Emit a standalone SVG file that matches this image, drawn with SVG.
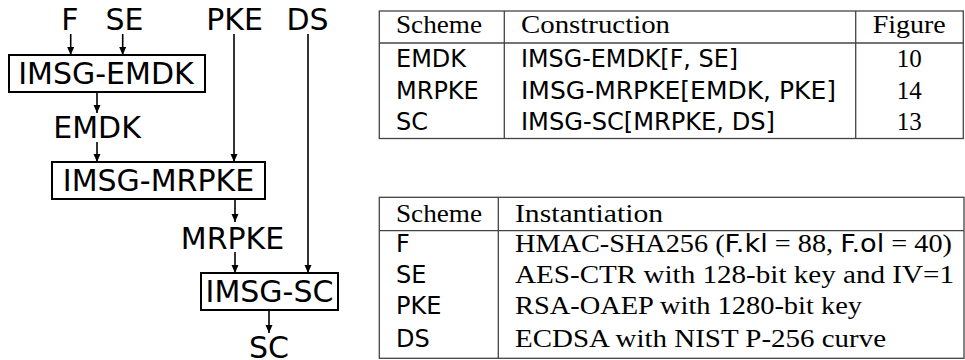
<svg xmlns="http://www.w3.org/2000/svg" width="965" height="360" viewBox="0 0 965 360">
<style>
.lbl{font-family:"DejaVu Sans",sans-serif;font-size:30px;fill:#000;text-anchor:middle}
.box{fill:#fff;stroke:#000;stroke-width:2}
.edge{stroke:#000;stroke-width:1.6;fill:none;marker-end:url(#ah)}
.tl{stroke:#444;stroke-width:1.3;fill:none}
.ss{font-family:"DejaVu Sans",sans-serif;font-size:24px;fill:#000}
.sf{font-family:"Liberation Serif","Times New Roman",serif;font-size:25px;fill:#000}
.mid{text-anchor:middle}
</style>
<defs>
<marker id="ah" markerUnits="userSpaceOnUse" markerWidth="9" markerHeight="8" refX="8" refY="3.5" orient="auto">
<path d="M0,0 L8,3.5 L0,7 z" fill="#000"/>
</marker>
</defs>
<g id="inputs">
<text class="lbl" x="70" y="30">F</text>
<text class="lbl" x="124.5" y="30">SE</text>
<text class="lbl" x="234.5" y="30">PKE</text>
<text class="lbl" x="307.5" y="30">DS</text>
</g>
<g id="imsg-emdk">
<rect class="box" x="9" y="55" width="196" height="37"/>
<text class="lbl" x="106" y="84">IMSG-EMDK</text>
</g>
<g id="emdk"><text class="lbl" x="97" y="138">EMDK</text></g>
<g id="imsg-mrpke">
<rect class="box" x="52" y="162" width="213" height="37"/>
<text class="lbl" x="158.5" y="191">IMSG-MRPKE</text>
</g>
<g id="mrpke"><text class="lbl" x="232.5" y="249">MRPKE</text></g>
<g id="imsg-sc">
<rect class="box" x="201" y="273" width="137" height="37"/>
<text class="lbl" x="269.5" y="302">IMSG-SC</text>
</g>
<g id="sc"><text class="lbl" x="269" y="358">SC</text></g>
<g id="connectors">
<line class="edge" x1="70.7" y1="34" x2="70.7" y2="55"/>
<line class="edge" x1="122.7" y1="34" x2="122.7" y2="55"/>
<line class="edge" x1="97" y1="92" x2="97" y2="113"/>
<line class="edge" x1="97" y1="142" x2="97" y2="162"/>
<line class="edge" x1="234" y1="34" x2="234" y2="162"/>
<line class="edge" x1="308" y1="34" x2="308" y2="273"/>
<line class="edge" x1="235" y1="199" x2="235" y2="222"/>
<line class="edge" x1="235" y1="252" x2="235" y2="273"/>
<line class="edge" x1="269" y1="310" x2="269" y2="333"/>
</g>
<g id="table-construction">
<rect class="tl" x="379.3" y="11" width="584" height="127.5"/>
<line class="tl" x1="379.3" y1="43" x2="963.3" y2="43"/>
<line class="tl" x1="504.3" y1="11" x2="504.3" y2="138.5"/>
<line class="tl" x1="855.7" y1="11" x2="855.7" y2="138.5"/>
<text class="sf" x="396" y="33" textLength="86" lengthAdjust="spacingAndGlyphs">Scheme</text>
<text class="sf" x="521" y="33" textLength="149" lengthAdjust="spacingAndGlyphs">Construction</text>
<text class="sf" x="872.7" y="33" textLength="73" lengthAdjust="spacingAndGlyphs">Figure</text>
<text class="ss" x="396" y="67">EMDK</text>
<text class="ss" x="396" y="98.5">MRPKE</text>
<text class="ss" x="396" y="130">SC</text>
<text class="ss" x="521" y="67" textLength="217" lengthAdjust="spacingAndGlyphs">IMSG-EMDK[F, SE]</text>
<text class="ss" x="521" y="98.5" textLength="315" lengthAdjust="spacingAndGlyphs">IMSG-MRPKE[EMDK, PKE]</text>
<text class="ss" x="521" y="130" textLength="254" lengthAdjust="spacingAndGlyphs">IMSG-SC[MRPKE, DS]</text>
<text class="sf mid" x="909.3" y="67">10</text>
<text class="sf mid" x="909.3" y="98.5">14</text>
<text class="sf mid" x="909.3" y="130">13</text>
</g>
<g id="table-instantiation">
<rect class="tl" x="379.3" y="197.3" width="584.7" height="161"/>
<line class="tl" x1="379.3" y1="230.7" x2="964" y2="230.7"/>
<line class="tl" x1="498.3" y1="197.3" x2="498.3" y2="358.3"/>
<text class="sf" x="396" y="221.7" textLength="86" lengthAdjust="spacingAndGlyphs">Scheme</text>
<text class="sf" x="515" y="221.7" textLength="148" lengthAdjust="spacingAndGlyphs">Instantiation</text>
<text class="ss" x="396" y="251.7">F</text>
<text class="ss" x="396" y="282.7">SE</text>
<text class="ss" x="396" y="314.3">PKE</text>
<text class="ss" x="396" y="346.7">DS</text>
<text class="sf" x="515" y="251.7" textLength="437" lengthAdjust="spacingAndGlyphs">HMAC-SHA256 (<tspan class="ss">F.kl</tspan> = 88, <tspan class="ss">F.ol</tspan> = 40)</text>
<text class="sf" x="515" y="282.7" textLength="439" lengthAdjust="spacingAndGlyphs">AES-CTR with 128-bit key and IV=1</text>
<text class="sf" x="515" y="314.3" textLength="347" lengthAdjust="spacingAndGlyphs">RSA-OAEP with 1280-bit key</text>
<text class="sf" x="515" y="346.7" textLength="371" lengthAdjust="spacingAndGlyphs">ECDSA with NIST P-256 curve</text>
</g>
</svg>
